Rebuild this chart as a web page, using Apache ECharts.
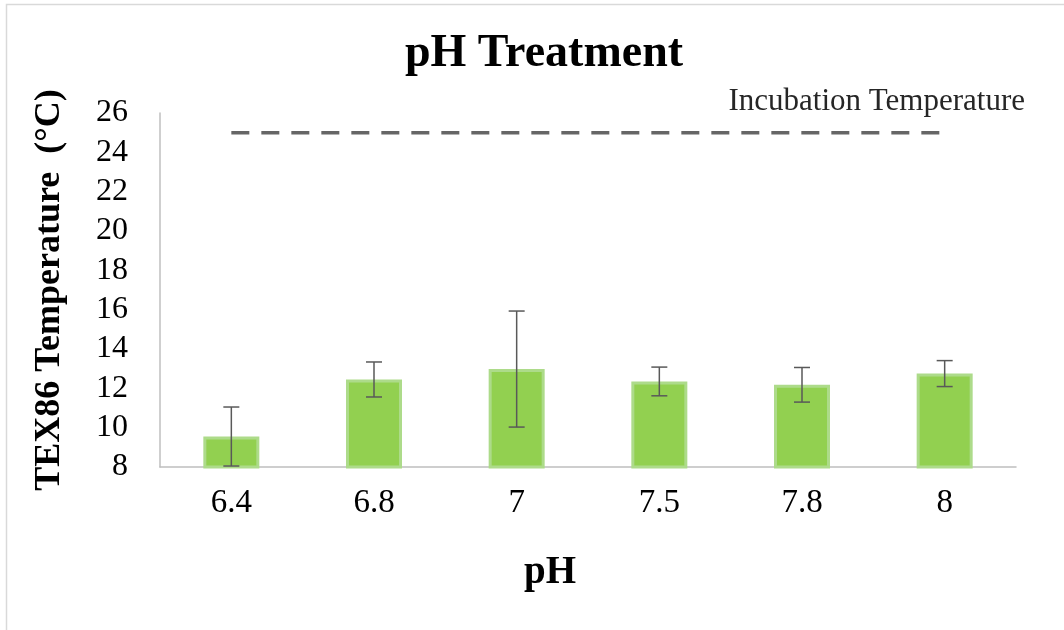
<!DOCTYPE html>
<html>
<head>
<meta charset="utf-8">
<script src="https://cdn.jsdelivr.net/npm/echarts@6/dist/echarts.min.js"></script>
<style>html,body{margin:0;padding:0;background:#fff}#c{width:1064px;height:630px}</style>
</head>
<body>
<div id="c"></div>
<script>
var categories = ['6.4', '6.8', '7', '7.5', '7.8', '8'];
var means = [9.55, 12.45, 12.98, 12.35, 12.18, 12.75];
var errors = [1.5, 0.89, 2.95, 0.73, 0.88, 0.66];
var incubationTemp = [25, 25, 25, 25, 25, 25];
var yTicks = { min: 8, max: 26, interval: 2 };

var serif = '"Liberation Serif", "Times New Roman", serif';
var chart = echarts.init(document.getElementById('c'));

var errData = categories.map(function (c, i) {
  return [i, means[i] - errors[i], means[i] + errors[i]];
});

chart.setOption({
  animation: false,
  backgroundColor: '#fff',
  title: {
    text: 'pH Treatment',
    left: 539,
    textAlign: 'center',
    top: 26,
    textStyle: { fontFamily: serif, fontWeight: 'bold', fontSize: 46, color: '#000' }
  },
  grid: { left: 160, right: 48, top: 113, bottom: 163 },
  xAxis: {
    type: 'category',
    data: categories,
    name: 'pH',
    nameLocation: 'middle',
    nameGap: 86,
    nameTextStyle: { fontFamily: serif, fontWeight: 'bold', fontSize: 39, color: '#000', padding: [0, 76, 0, 0] },
    axisLine: { show: true, lineStyle: { color: '#bfbfbf', width: 1.5 } },
    axisTick: { show: false },
    axisLabel: { fontFamily: serif, fontSize: 33, color: '#000', margin: 20 }
  },
  yAxis: {
    type: 'value',
    min: yTicks.min,
    max: yTicks.max,
    interval: yTicks.interval,
    name: 'TEX86 Temperature  (°C)',
    nameLocation: 'middle',
    nameGap: 92,
    nameTextStyle: { fontFamily: serif, fontWeight: 'bold', fontSize: 36, color: '#000' },
    axisLine: { show: true, lineStyle: { color: '#bfbfbf', width: 1.5 } },
    axisTick: { show: false },
    splitLine: { show: false },
    axisLabel: { fontFamily: serif, fontSize: 32, color: '#000', margin: 32 }
  },
  series: [
    {
      type: 'bar',
      data: means,
      barWidth: 56,
      itemStyle: { color: '#92d050', borderColor: '#addb8a', borderWidth: 3 },
      z: 2
    },
    {
      type: 'custom',
      data: errData,
      z: 5,
      renderItem: function (params, api) {
        var x = api.value(0);
        var lo = api.coord([x, api.value(1)]);
        var hi = api.coord([x, api.value(2)]);
        var hw = 8;
        var st = { stroke: '#595959', lineWidth: 1.5 };
        return {
          type: 'group',
          children: [
            { type: 'line', shape: { x1: lo[0], y1: lo[1], x2: hi[0], y2: hi[1] }, style: st },
            { type: 'line', shape: { x1: lo[0] - hw, y1: lo[1], x2: lo[0] + hw, y2: lo[1] }, style: st },
            { type: 'line', shape: { x1: hi[0] - hw, y1: hi[1], x2: hi[0] + hw, y2: hi[1] }, style: st }
          ]
        };
      }
    },
    {
      type: 'line',
      data: incubationTemp,
      symbol: 'none',
      lineStyle: { color: '#666666', width: 3.5, type: [18, 12] },
      z: 4
    }
  ],
  graphic: [
    {
      type: 'rect',
      shape: { x: 6.5, y: 4.5, width: 1200, height: 1000 },
      style: { fill: 'none', stroke: '#d9d9d9', lineWidth: 1.5 },
      silent: true
    },
    {
      type: 'text',
      right: 39,
      top: 86,
      style: { text: 'Incubation Temperature', font: '31px ' + serif, fill: '#262626' }
    }
  ]
});
</script>
</body>
</html>
